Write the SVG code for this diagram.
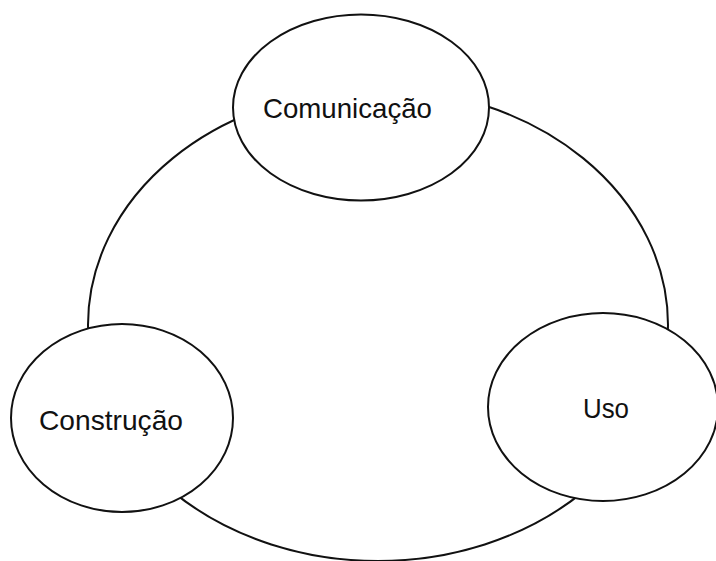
<svg xmlns="http://www.w3.org/2000/svg" width="716" height="561" viewBox="0 0 716 561">
<style>
.ring{fill:none;stroke:#111;stroke-width:2}
.node{fill:#fff;stroke:#111;stroke-width:2}
.lbl{font-family:"Liberation Sans",Arial,sans-serif;font-size:28px;fill:#111}
</style>
<rect width="716" height="561" fill="#fff"/>
<g id="connectors">
<ellipse class="ring" cx="378" cy="325" rx="290" ry="236"/>
</g>
<g id="comunicacao">
<ellipse class="node" cx="361" cy="107.5" rx="128" ry="93"/>
<text class="lbl" x="263" y="118" textLength="169" lengthAdjust="spacingAndGlyphs">Comunicação</text>
</g>
<g id="construcao">
<ellipse class="node" cx="122" cy="418" rx="111" ry="94"/>
<text class="lbl" x="39" y="430" textLength="144" lengthAdjust="spacingAndGlyphs">Construção</text>
</g>
<g id="uso">
<ellipse class="node" cx="603" cy="407" rx="115" ry="94"/>
<text class="lbl" x="583" y="418" textLength="46" lengthAdjust="spacingAndGlyphs">Uso</text>
</g>
</svg>
